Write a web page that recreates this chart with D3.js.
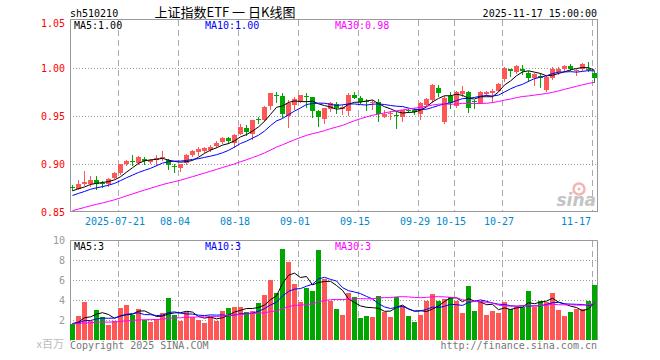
<!DOCTYPE html>
<html>
<head>
<meta charset="utf-8">
<script src="https://cdn.jsdelivr.net/npm/d3@7"></script>
<style>
body { margin: 0; background: #fff; }
</style>
</head>
<body>
<div id="chart"></div>
<script>
// trading days shown
var dates = ["2025-07-09","2025-07-10","2025-07-11","2025-07-14","2025-07-15","2025-07-16","2025-07-17","2025-07-18",
"2025-07-21","2025-07-22","2025-07-23","2025-07-24","2025-07-25","2025-07-28","2025-07-29","2025-07-30","2025-07-31","2025-08-01",
"2025-08-04","2025-08-05","2025-08-06","2025-08-07","2025-08-08","2025-08-11","2025-08-12","2025-08-13","2025-08-14","2025-08-15",
"2025-08-18","2025-08-19","2025-08-20","2025-08-21","2025-08-22","2025-08-25","2025-08-26","2025-08-27","2025-08-28","2025-08-29",
"2025-09-01","2025-09-02","2025-09-03","2025-09-04","2025-09-05","2025-09-08","2025-09-09","2025-09-10","2025-09-11","2025-09-12",
"2025-09-15","2025-09-16","2025-09-17","2025-09-18","2025-09-19","2025-09-22","2025-09-23","2025-09-24","2025-09-25","2025-09-26",
"2025-09-29","2025-09-30","2025-10-09","2025-10-10",
"2025-10-13","2025-10-14","2025-10-15","2025-10-16","2025-10-17","2025-10-20","2025-10-21","2025-10-22","2025-10-23","2025-10-24",
"2025-10-27","2025-10-28","2025-10-29","2025-10-30","2025-10-31","2025-11-03","2025-11-04","2025-11-05","2025-11-06","2025-11-07",
"2025-11-10","2025-11-11","2025-11-12","2025-11-13","2025-11-14","2025-11-17"];

var open = [0.877,0.875,0.880,0.880,0.884,0.881,0.880,0.886,0.891,0.900,0.904,0.902,0.906,0.903,0.905,0.907,0.905,0.898,
0.896,0.902,0.910,0.913,0.914,0.915,0.919,0.923,0.928,0.922,0.932,0.938,0.932,0.947,0.946,0.961,0.972,0.971,0.951,0.962,
0.966,0.971,0.970,0.956,0.947,0.958,0.963,0.958,0.956,0.972,0.969,0.966,0.964,0.965,0.950,0.953,0.952,0.949,0.957,0.957,
0.953,0.962,0.967,0.980,0.944,0.971,0.961,0.973,0.976,0.966,0.964,0.973,0.974,0.977,
0.989,0.999,0.996,1.000,0.995,0.990,0.992,0.978,0.990,0.996,0.999,1.003,0.997,1.000,1.000,0.995];
var high = [0.879,0.884,0.893,0.888,0.888,0.883,0.886,0.892,0.900,0.905,0.910,0.909,0.908,0.906,0.910,0.914,0.906,0.901,
0.901,0.911,0.915,0.918,0.918,0.920,0.924,0.929,0.929,0.932,0.942,0.941,0.946,0.950,0.961,0.975,0.976,0.975,0.967,0.970,
0.972,0.975,0.970,0.957,0.959,0.965,0.965,0.962,0.975,0.976,0.971,0.968,0.967,0.968,0.957,0.956,0.955,0.957,0.958,0.959,
0.965,0.969,0.984,0.983,0.971,0.976,0.977,0.982,0.977,0.967,0.977,0.977,0.979,0.985,
1.002,1.000,1.004,1.004,0.997,0.995,0.995,0.992,1.002,1.002,1.004,1.005,0.999,1.006,1.007,0.997];
var low = [0.873,0.874,0.879,0.878,0.875,0.877,0.878,0.886,0.890,0.899,0.899,0.901,0.901,0.902,0.899,0.905,0.895,0.892,
0.893,0.901,0.909,0.910,0.913,0.914,0.918,0.922,0.922,0.918,0.932,0.931,0.927,0.943,0.945,0.958,0.965,0.950,0.939,0.958,
0.965,0.960,0.950,0.940,0.943,0.956,0.954,0.953,0.952,0.969,0.964,0.957,0.958,0.945,0.949,0.947,0.938,0.945,0.955,0.953,
0.947,0.961,0.965,0.971,0.943,0.959,0.960,0.971,0.955,0.959,0.964,0.972,0.965,0.977,
0.987,0.992,0.995,0.994,0.987,0.983,0.981,0.977,0.989,0.994,0.997,0.998,0.993,0.998,0.997,0.986];
var close = [0.876,0.880,0.882,0.884,0.880,0.880,0.885,0.891,0.900,0.904,0.903,0.908,0.904,0.905,0.907,0.908,0.899,0.897,
0.901,0.910,0.914,0.916,0.917,0.918,0.922,0.928,0.924,0.931,0.939,0.934,0.946,0.946,0.960,0.975,0.971,0.953,0.964,0.968,
0.972,0.970,0.956,0.950,0.959,0.964,0.959,0.960,0.972,0.969,0.965,0.965,0.965,0.953,0.953,0.954,0.951,0.957,0.956,0.955,
0.964,0.968,0.983,0.974,0.969,0.964,0.976,0.977,0.959,0.965,0.976,0.976,0.977,0.984,
1.001,0.997,1.003,0.997,0.990,0.994,0.990,0.991,1.000,0.999,1.003,1.000,0.998,1.005,0.998,0.990];
// volume, millions
var volume = [1.7,2.5,3.9,2.0,3.1,2.4,1.6,2.0,3.3,3.6,2.6,3.2,2.1,1.9,2.2,2.8,4.3,2.6,2.0,2.9,2.4,2.1,1.8,2.5,2.0,
3.0,3.3,3.4,3.4,2.9,3.0,3.8,4.6,6.1,4.8,9.2,7.9,5.7,3.9,5.3,5.0,9.1,6.2,4.0,3.2,2.6,4.8,4.4,2.3,2.5,2.4,4.5,2.9,2.4,4.4,3.5,2.5,1.9,2.6,4.0,4.7,4.0,
4.2,4.4,4.0,2.8,5.5,3.0,4.0,2.6,3.0,2.8,3.9,3.2,3.4,3.4,5.0,3.4,4.0,3.9,4.8,3.1,2.5,2.9,3.2,3.2,4.0,5.6];

// sessions before the window, only used to start the moving averages
var priorClose = [0.829,0.833,0.831,0.836,0.835,0.839,0.838,0.842,0.840,0.844,0.846,0.845,0.848,0.850,0.849,
0.853,0.852,0.856,0.855,0.859,0.858,0.862,0.861,0.865,0.868,0.869,0.873,0.871,0.874];
var priorVolume = [1.5,1.8,1.4,1.6,1.9,1.7,1.5,1.6,1.8,1.4,1.7,1.6,1.5,1.9,1.8,1.6,1.4,1.7,1.8,1.5,
1.6,1.7,1.9,1.6,1.5,1.8,1.7,1.6,1.7];

var tickDates = ["2025-07-21","2025-08-04","2025-08-18","2025-09-01","2025-09-15","2025-09-29","2025-10-15","2025-10-27","2025-11-17"];
var tickLabels = ["2025-07-21","08-04","08-18","09-01","09-15","09-29","10-15","10-27","11-17"];
var priceTicks = [0.85, 0.90, 0.95, 1.00, 1.05];
var volTicks = [2, 4, 6, 8, 10];
var maPeriods = [5, 10, 30];
var maColors = ["#000000", "#0000ff", "#ff00ff"];
var priceMaText = ["MA5:1.00", "MA10:1.00", "MA30:0.98"];
var volMaText = ["MA5:3", "MA10:3", "MA30:3"];

var red = "#ff5656", green = "#00a600";
var mono = "'DejaVu Sans Mono', monospace";
var cjk = "'Noto Sans CJK SC', sans-serif";

var left = 70, right = 598;

var svg = d3.select("#chart").append("svg")
    .attr("width", 660)
    .attr("height", 360)
    .style("display", "block");

var x = d3.scaleBand()
    .domain(dates)
    .range([left, right]);

var y = d3.scaleLinear()
    .domain([0.85, 1.05])
    .range([212.5, 20.5]);

var yv = d3.scaleLinear()
    .domain([0, 10])
    .range([340.5, 240.5]);

function movingAvg(values, prior, n) {
    var all = prior.concat(values);
    return values.map((v, i) => d3.mean(all.slice(i + prior.length - n + 1, i + prior.length + 1)));
}

function isUp(i) {
    if (close[i] != open[i]) return close[i] > open[i];
    return i == 0 ? true : close[i] >= close[i - 1];
}

var cx = d => x(d) + 2.5;

// header texts
svg.append("text")
    .attr("x", 70).attr("y", 16.5)
    .style("font-family", mono).style("font-size", "10px")
    .text("sh510210");
svg.append("text")
    .attr("x", 225).attr("y", 16.5)
    .attr("text-anchor", "middle")
    .style("font-family", cjk).style("font-size", "13px")
    .style("white-space", "pre")
    .text("上证指数ETF 一 日K线图");
svg.append("text")
    .attr("x", 597).attr("y", 16.5)
    .attr("text-anchor", "end")
    .style("font-family", mono).style("font-size", "10px")
    .text("2025-11-17 15:00:00");

// grid: vertical dashed lines across both panels
var vgrid = svg.append("g");
[[20, 211], [241, 340]].forEach(function (r) {
    vgrid.selectAll(null)
        .data(tickDates)
        .enter().append("line")
        .attr("x1", d => x(d) + 0.5).attr("x2", d => x(d) + 0.5)
        .attr("y1", r[0]).attr("y2", r[1])
        .attr("stroke", "#aaa")
        .attr("stroke-dasharray", "6,4");
});

// horizontal dotted lines
svg.append("g").selectAll("line")
    .data(priceTicks.slice(1, 4))
    .enter().append("line")
    .attr("x1", left).attr("x2", right)
    .attr("y1", d => y(d)).attr("y2", d => y(d))
    .attr("stroke", "#999")
    .attr("stroke-dasharray", "1,2");

svg.append("g").selectAll("line")
    .data(volTicks.slice(0, 4))
    .enter().append("line")
    .attr("x1", left).attr("x2", right)
    .attr("y1", d => yv(d)).attr("y2", d => yv(d))
    .attr("stroke", "#999")
    .attr("stroke-dasharray", "1,2");

// panel borders
svg.append("rect")
    .attr("x", 70.5).attr("y", 19.5)
    .attr("width", 527).attr("height", 192)
    .attr("fill", "none").attr("stroke", "#999");
svg.append("path")
    .attr("d", "M70.5,341V240.5H597.5V340")
    .attr("fill", "none").attr("stroke", "#999");

// sina watermark
var wm = svg.append("g");
wm.append("circle").attr("cx", 579).attr("cy", 189).attr("r", 5.5)
    .attr("fill", "none").attr("stroke", "#f2b4b4").attr("stroke-width", 2.5);
wm.append("circle").attr("cx", 579).attr("cy", 189).attr("r", 1.5).attr("fill", "#f2b4b4");
wm.append("text")
    .attr("x", 596).attr("y", 206)
    .attr("text-anchor", "end")
    .style("font-family", "'DejaVu Sans', sans-serif")
    .style("font-size", "17px").style("font-weight", "bold").style("font-style", "italic")
    .attr("fill", "#c4c4c4")
    .text("sina");

// price axis labels
var yAxis = svg.append("g")
    .attr("transform", "translate(70,0)")
    .call(d3.axisLeft(y).tickValues(priceTicks).tickFormat(d3.format(".2f")).tickSize(0).tickPadding(5));
yAxis.select(".domain").remove();
yAxis.selectAll("text")
    .attr("fill", "#ff0000")
    .style("font-family", mono).style("font-size", "10px")
    .attr("dy", d => d == 1.05 ? "0.55em" : "0.32em");

// volume axis labels
var vAxis = svg.append("g")
    .attr("transform", "translate(70,0)")
    .call(d3.axisLeft(yv).tickValues(volTicks).tickFormat(d3.format("d")).tickSize(0).tickPadding(5));
vAxis.select(".domain").remove();
vAxis.selectAll("text")
    .attr("fill", "#999")
    .style("font-family", mono).style("font-size", "10px");

svg.append("text")
    .attr("x", 64).attr("y", 348)
    .attr("text-anchor", "end")
    .attr("fill", "#bbb")
    .style("font-family", cjk).style("font-size", "11px")
    .text("x百万");

// date axis
var xAxis = svg.append("g")
    .attr("transform", "translate(-6,212)")
    .call(d3.axisBottom(x).tickValues(tickDates).tickFormat((d, i) => tickLabels[i]).tickSize(0).tickPadding(6));
xAxis.select(".domain").remove();
xAxis.selectAll("text")
    .attr("fill", "#0088cc")
    .style("font-family", mono).style("font-size", "10px");
xAxis.selectAll(".tick").filter(d => d == "2025-11-17").select("text")
    .attr("text-anchor", "end").attr("x", 2);

// candles
var idx = d3.range(dates.length);
var candles = svg.append("g").selectAll("g")
    .data(idx)
    .enter().append("g")
    .attr("fill", i => isUp(i) ? red : green)
    .attr("stroke", i => isUp(i) ? red : green);

candles.append("line")
    .attr("x1", i => cx(dates[i])).attr("x2", i => cx(dates[i]))
    .attr("y1", i => Math.round(y(high[i]))).attr("y2", i => Math.round(y(low[i])) + 1)
    .attr("stroke-width", 1);

candles.append("rect")
    .attr("stroke", "none")
    .attr("x", i => x(dates[i]))
    .attr("width", 5)
    .attr("y", i => Math.round(y(Math.max(open[i], close[i]))))
    .attr("height", i => Math.max(1, Math.round(y(Math.min(open[i], close[i]))) - Math.round(y(Math.max(open[i], close[i])))));

// volume bars
svg.append("g").selectAll("rect")
    .data(idx)
    .enter().append("rect")
    .attr("x", i => x(dates[i]))
    .attr("width", 5)
    .attr("y", i => Math.round(yv(volume[i])))
    .attr("height", i => 340 - Math.round(yv(volume[i])))
    .attr("fill", i => isUp(i) ? red : green);

// moving averages
maPeriods.forEach(function (n, k) {
    var pm = movingAvg(close, priorClose, n);
    var vm = movingAvg(volume, priorVolume, n);
    svg.append("path")
        .datum(pm)
        .attr("fill", "none").attr("stroke", maColors[k]).attr("stroke-width", 1)
        .attr("d", d3.line().x((d, i) => cx(dates[i])).y(d => y(d)));
    svg.append("path")
        .datum(vm)
        .attr("fill", "none").attr("stroke", maColors[k]).attr("stroke-width", 1)
        .attr("d", d3.line().x((d, i) => cx(dates[i])).y(d => yv(d)));
});

// MA legends
var legendX = [74, 205, 335];
svg.append("g").selectAll("text")
    .data(priceMaText)
    .enter().append("text")
    .attr("x", (d, i) => legendX[i]).attr("y", 29)
    .attr("fill", (d, i) => maColors[i])
    .style("font-family", mono).style("font-size", "10px")
    .text(d => d);
svg.append("g").selectAll("text")
    .data(volMaText)
    .enter().append("text")
    .attr("x", (d, i) => legendX[i]).attr("y", 250)
    .attr("fill", (d, i) => maColors[i])
    .style("font-family", mono).style("font-size", "10px")
    .text(d => d);

// footer
svg.append("text")
    .attr("x", 70).attr("y", 349)
    .attr("fill", "#777")
    .style("font-family", mono).style("font-size", "10px")
    .text("Copyright 2025 SINA.COM");
svg.append("text")
    .attr("x", 597).attr("y", 349)
    .attr("text-anchor", "end")
    .attr("fill", "#777")
    .style("font-family", mono).style("font-size", "10px")
    .text("http://finance.sina.com.cn");
</script>
</body>
</html>
